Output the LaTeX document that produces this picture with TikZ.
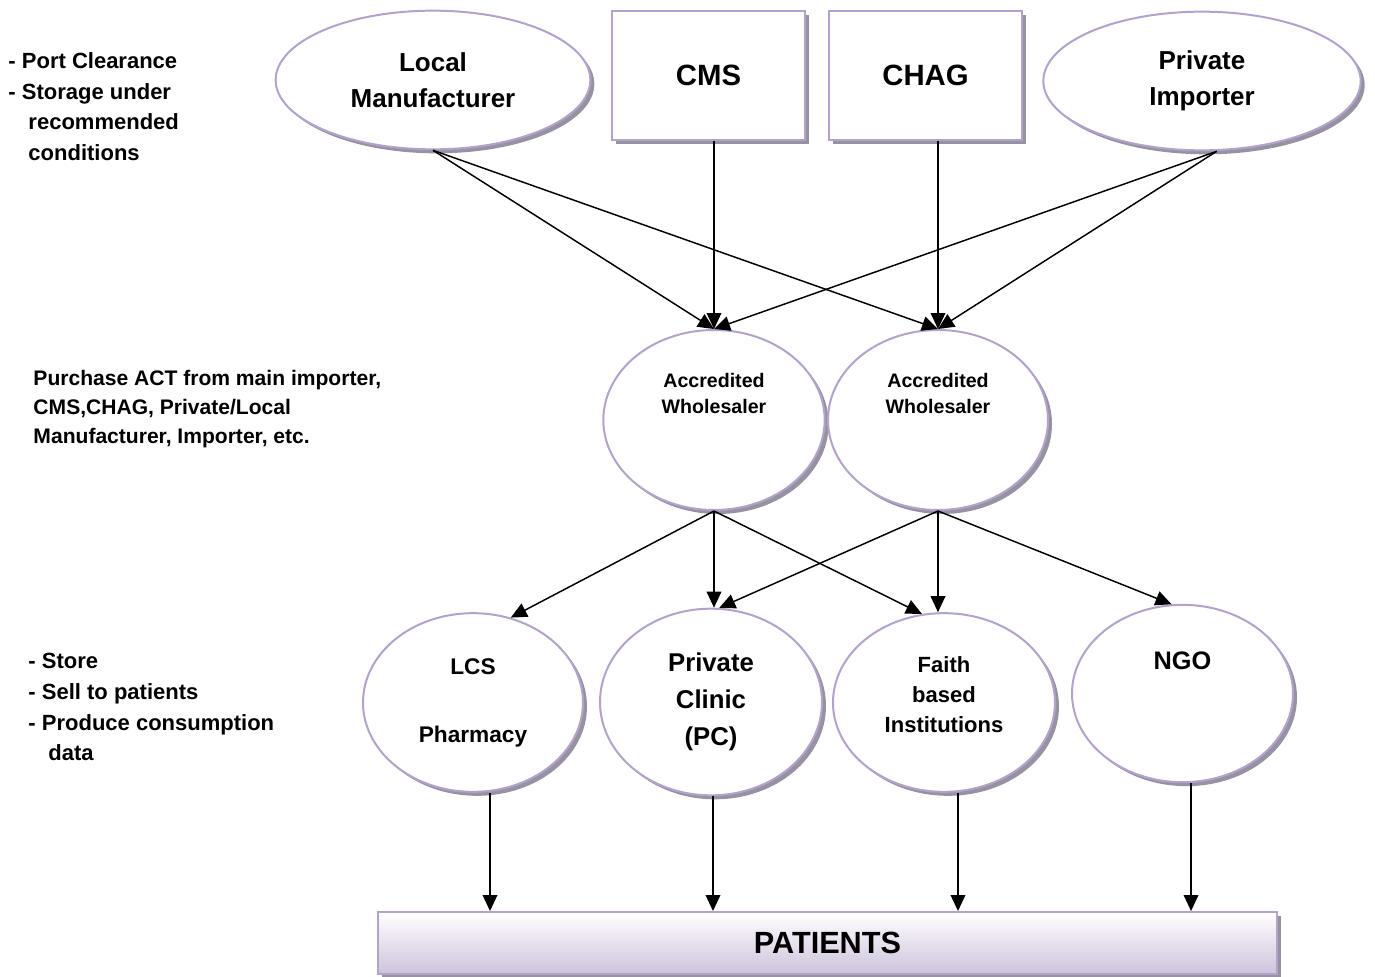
\documentclass[tikz,border=0pt]{standalone}
\usepackage{fontspec}
\setmainfont{Liberation Sans}
\usepackage{tikz}
\usetikzlibrary{shapes.geometric,shadows,arrows.meta}
\definecolor{lilac}{RGB}{178,162,204}
\definecolor{lilacshade}{RGB}{206,194,220}
\definecolor{shadowgrey}{RGB}{150,146,162}
\tikzset{every picture/.style={line width=0.75pt}}

\begin{document}
\begin{tikzpicture}[x=0.75pt,y=0.75pt,yscale=-1,xscale=1,
	shp/.style={draw=lilac, line width=1.5pt, fill=white, inner sep=0pt, align=center,
		drop shadow={shadow xshift=3pt, shadow yshift=-3pt, fill=shadowgrey, opacity=1}},
	oval/.style={shp, ellipse},
	box/.style={shp, rectangle},
	arr/.style={-{Triangle[length=12pt,width=11pt]}, line width=1.1pt},
	note/.style={anchor=north west, inner sep=0pt, align=left}
	]
	\useasboundingbox (0,0) rectangle (1375,977);
	
	%Top row: suppliers
	\node[oval, minimum width=236pt, minimum height=104pt, font=\bfseries\fontsize{19.5}{27}\selectfont] (lm) at (433,80) {Local\\Manufacturer};
	\node[box, minimum width=144.75pt, minimum height=96.75pt, font=\bfseries\fontsize{22}{27}\selectfont] (cms) at (708.5,75.5) {CMS};
	\node[box, minimum width=144.75pt, minimum height=96.75pt, font=\bfseries\fontsize{22}{27}\selectfont] (chag) at (925.5,75.5) {CHAG};
	\node[oval, minimum width=238pt, minimum height=104pt, font=\bfseries\fontsize{19.5}{27}\selectfont] (pi) at (1202,81) {Private\\Importer};
	
	%Middle row: wholesalers
	\node[oval, minimum width=166pt, minimum height=135pt, font=\bfseries\fontsize{14.7}{20}\selectfont] (w1) at (714,420) {Accredited\\Wholesaler\\[20pt]~};
	\node[oval, minimum width=165pt, minimum height=135pt, font=\bfseries\fontsize{14.7}{20}\selectfont] (w2) at (938,420) {Accredited\\Wholesaler\\[20pt]~};
	
	%Bottom row: outlets
	\node[oval, minimum width=165pt, minimum height=134pt, font=\bfseries\fontsize{17}{22}\selectfont] (lcs) at (473,702.5) {LCS\\[29pt]Pharmacy};
	\node[oval, minimum width=166.5pt, minimum height=140pt, font=\bfseries\fontsize{19.3}{27.75}\selectfont] (pc) at (711,702) {Private\\Clinic\\(PC)};
	\node[oval, minimum width=166.5pt, minimum height=134pt, font=\bfseries\fontsize{16.5}{22.5}\selectfont] (fbi) at (944,702.5) {Faith\\based\\Institutions\\[-10pt]~};
	\node[oval, minimum width=165.75pt, minimum height=133pt, font=\bfseries\fontsize{19}{25}\selectfont] (ngo) at (1182.5,693.5) {NGO\\[25pt]~};
	
	%Patients bar
	\node[shp, rectangle, top color=white, bottom color=lilacshade, minimum width=674pt, minimum height=46.5pt, font=\bfseries\fontsize{23}{27}\selectfont] (pat) at (827.5,943) {PATIENTS};
	
	%Side notes
	\node[note, font=\bfseries\fontsize{16.5}{23}\selectfont] (n1) at (8,52) {- Port Clearance\\- Storage under\\\hspace*{15pt}recommended\\\hspace*{15pt}conditions};
	\node[note, font=\bfseries\fontsize{15.8}{21.75}\selectfont] (n2) at (33,369.5) {Purchase ACT from main importer,\\CMS,CHAG, Private/Local\\Manufacturer, Importer, etc.};
	\node[note, font=\bfseries\fontsize{16.5}{23}\selectfont] (n3) at (28,653) {- Store\\- Sell to patients\\- Produce consumption\\\hspace*{15pt}data};
	
	%Supplier to wholesaler arrows
	\draw[arr] (lm.south) -- (w1.north);
	\draw[arr] (lm.south) -- (w2.north);
	\draw[arr] (w1.north |- cms.south) -- (w1.north);
	\draw[arr] (w2.north |- chag.south) -- (w2.north);
	\draw[arr] ([xshift=11pt]pi.south) -- (w1.north);
	\draw[arr] ([xshift=11pt]pi.south) -- (w2.north);
	
	%Wholesaler to outlet arrows
	\draw[arr] (w1.south) -- (lcs.66);
	\draw[arr] (w1.south) -- (w1.south |- pc.north);
	\draw[arr] (w1.south) -- (fbi.104);
	\draw[arr] (w2.south) -- (pc.85);
	\draw[arr] (w2.south) -- (w2.south |- fbi.north);
	\draw[arr] (w2.south) -- (ngo.97);
	
	%Outlet to patients arrows
	\draw[arr] ([xshift=12.75pt]lcs.south) -- ([xshift=12.75pt]lcs.south |- pat.north);
	\draw[arr] ([xshift=1.5pt]pc.south) -- ([xshift=1.5pt]pc.south |- pat.north);
	\draw[arr] ([xshift=10.5pt]fbi.south) -- ([xshift=10.5pt]fbi.south |- pat.north);
	\draw[arr] ([xshift=6.4pt]ngo.south) -- ([xshift=6.4pt]ngo.south |- pat.north);
\end{tikzpicture}
\end{document}
